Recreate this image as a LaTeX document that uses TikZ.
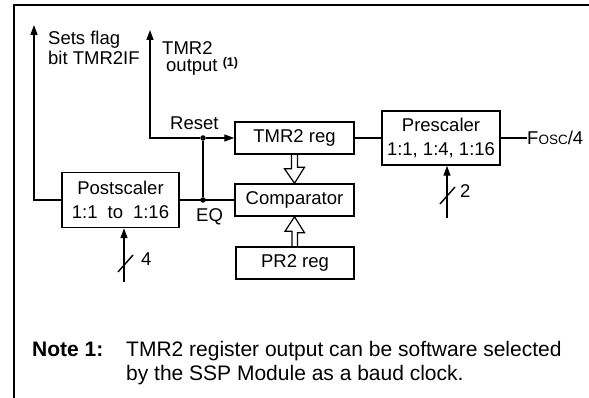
\documentclass[tikz,border=0pt]{standalone}
\usepackage{fontspec}
\setmainfont{Liberation Sans}
\usetikzlibrary{arrows.meta,calc}
\newcommand{\dgmfont}{\fontsize{18.5}{24}\selectfont}
\newcommand{\notefont}{\fontsize{21}{24}\selectfont}
\begin{document}
\begin{tikzpicture}[x=1pt, y=-1pt,
    blk/.style={draw, line width=1.5pt, minimum width=119pt, minimum height=32pt, align=center, font=\dgmfont, inner sep=0pt},
    arr/.style={-{Triangle[length=10pt,width=7pt]}, line width=1.4pt},
    wire/.style={line width=1.4pt},
    hol/.style={line width=1.2pt, line join=miter},
    lbl/.style={font=\dgmfont, inner sep=0pt, align=left},
    dot/.style={circle, fill, inner sep=0pt, minimum size=5.5pt}
]
\useasboundingbox (0,0) rectangle (589,398);
\draw[line width=1.8pt] (14,398) -- (14,5) -- (589,5);

% blocks
\node[blk] (tmr) at (294.5,138) {TMR2 reg};
\node[blk, minimum width=118pt, minimum height=54pt] (prs) at (441,138) {Prescaler\\1:1, 1:4, 1:16};
\node[blk] (cmp) at (294.5,200) {Comparator};
\node[blk, minimum width=118pt] (pr2) at (295,263) {PR2 reg};
\node[blk, minimum width=117pt, minimum height=55pt] (pst) at (120.5,200) {Postscaler\\1:1\hspace{10pt}to\hspace{10pt}1:16};

% junctions and free ends
\node[dot] (rst) at (203,138) {};
\node[dot] (eq) at (203,200) {};
\coordinate (flag) at (34,25);
\coordinate (out) at (150,30);
\coordinate (pstin) at (124,282);
\coordinate (prsin) at (447,218);

% labels
\node[lbl, anchor=base west, font=\fontsize{18.5}{20}\selectfont] (flagtxt) at (48,65) {Sets flag\\bit TMR2IF};
\node[lbl, anchor=base west, font=\fontsize{18.5}{17}\selectfont] (outtxt) at (162,72) {TMR2\\\hspace{4pt}output {\fontsize{12.5}{12}\selectfont\bfseries\raisebox{5pt}{(1)}}};
\node[lbl, anchor=base west] (rsttxt) at (170,130) {Reset};
\node[lbl, anchor=base west] (eqtxt) at (196,222) {EQ};
\node[lbl, anchor=west] (fosc) at (527,138) {F{\fontsize{13.5}{14}\selectfont OSC}/4};
\node[lbl, anchor=west] (bits4) at (141,259) {4};
\node[lbl, anchor=west] (bits2) at (460,191) {2};

% connectors
\draw[arr] (pst.west) -| (flag);
\draw[arr] (rst) -- (tmr.west);
\draw[arr] (rst) -| (out);
\draw[wire] (pst.east) -- (cmp.west);
\draw[wire] (eq) -- (rst);
\draw[wire] (tmr.east) -- (prs.west);
\draw[wire] (prs.east) -- (fosc.west);
\draw[arr] (pstin) -- (pstin |- pst.south);
\draw[wire] ($(pstin)+(-6,-10)$) -- ++(15,-17);
\draw[arr] (prsin) -- (prsin |- prs.south);
\draw[wire] ($(prsin)+(-7,-14)$) -- ++(15,-17);

% hollow bus arrows
\draw[hol] ($(tmr.south)+(-3,0)$) -- ++(0,14) -- ++(-7,0) -- (cmp.north) -- ++(10,-16) -- ++(-7,0) -- ++(0,-14);
\draw[hol] ($(pr2.north)+(-3,0)$) -- ++(0,-15) -- ++(-7,0) -- (cmp.south) -- ++(10,16) -- ++(-7,0) -- ++(0,15);

% note
\node[lbl, anchor=base west, font=\notefont\bfseries] (notehd) at (32,356) {Note 1:};
\node[lbl, anchor=base west, font=\notefont] (notetxt) at (126,380) {TMR2 register output can be software selected\\by the SSP Module as a baud clock.};
\end{tikzpicture}
\end{document}
